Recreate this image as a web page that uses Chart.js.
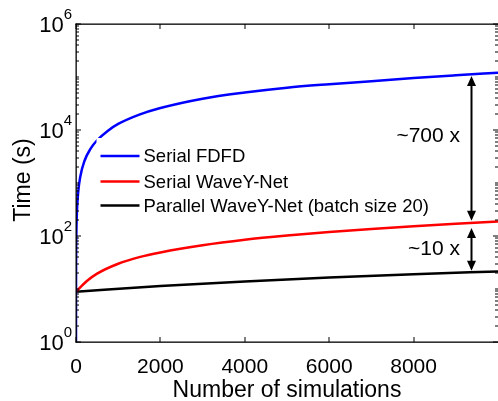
<!DOCTYPE html>
<html><head><meta charset="utf-8">
<script src="https://cdn.jsdelivr.net/npm/chart.js@4/dist/chart.umd.min.js"></script>
<style>html,body{margin:0;padding:0;background:#fff;overflow:hidden}#wrap{width:498px;height:401px;position:relative}</style>
</head><body><div id="wrap"><canvas id="c" width="498" height="401"></canvas></div>
<script>
// ---- data ----
const fdfdSims = [0, 1, 2, 5, 10, 20, 50, 100, 200, 350, 500, 750, 1000, 1500, 2000, 3000, 4000, 5000, 6000, 7000, 8000, 9000, 10000];
const fdfdTime = [1, 13, 26, 65, 130, 260, 650, 1300, 2600, 4500, 6400, 9600, 13000, 19500, 26000, 39000, 51000, 63000, 73000, 83000, 96000, 108000, 120000];
const waveySims = [0, 250, 500, 1000, 1500, 2000, 3000, 4000, 5000, 6000, 7000, 8000, 9000, 10000];
const waveyTime = [8.9, 14, 19.5, 30, 40, 49, 67, 85, 102, 119, 136, 153, 170, 187];
const parallelSims = [0, 2000, 4000, 6000, 8000, 10000];
const parallelTime = [8.9, 11.4, 13.9, 16.5, 19, 21.5];
const seriesLabels = ['Serial FDFD', 'Serial WaveY-Net', 'Parallel WaveY-Net (batch size 20)'];
const seriesColors = ['#0000ff', '#ff0000', '#000000'];
const xTicks = [0, 2000, 4000, 6000, 8000];
const yMajorExponents = [0, 2, 4, 6];
const xTitle = 'Number of simulations';
const yTitle = 'Time (s)';
const ratioLabels = ['~700 x', '~10 x'];
const ratioLabelY = [7700, 57];
const ratioLabelX = 9100;
const ratioArrowX = 9370;
const ratioArrowFrom = [105000, 142];
const ratioArrowTo = [194, 22];

const FONT = '"Liberation Sans", Arimo, Arial, sans-serif';
const pts = (xs, ys) => xs.map((x, i) => ({x: x, y: ys[i]}));

const decor = {
  id: 'decor',
  afterDatasetsDraw(chart) {
    const ctx = chart.ctx;
    ctx.save();
    ctx.fillStyle = '#fff';
    ctx.fillRect(96.5, 138, 340, 80);
    const rows = [156, 181.5, 205.5];
    ctx.font = '18.5px ' + FONT;
    ctx.textBaseline = 'middle';
    ctx.textAlign = 'left';
    chart.data.datasets.forEach((ds, i) => {
      ctx.strokeStyle = ds.borderColor;
      ctx.lineWidth = 2.5;
      ctx.beginPath();
      ctx.moveTo(100.5, rows[i]);
      ctx.lineTo(139.5, rows[i]);
      ctx.stroke();
      ctx.fillStyle = '#000';
      ctx.fillText(ds.label, 143.5, rows[i] + 1);
    });
    ctx.restore();
  },
  afterDraw(chart) {
    const ctx = chart.ctx, ca = chart.chartArea;
    const xs = chart.scales.x, ys = chart.scales.y;
    ctx.save();
    ctx.fillStyle = '#000';
    ctx.fillRect(ca.left - 0.5, ca.top - 0.5, 1.3, ca.bottom - ca.top + 1);
    ctx.fillRect(ca.left - 0.5, ca.bottom - 0.5, ca.right - ca.left + 1, 1.3);
    ctx.fillRect(ca.left - 0.5, ca.top - 0.5, ca.right - ca.left + 1, 1.3);
    xTicks.forEach(v => {
      const px = Math.round(xs.getPixelForValue(v)) - 0.5;
      ctx.fillRect(px, ca.bottom - 5, 1, 5);
      ctx.fillRect(px, ca.top, 1, 5);
    });
    for (let k = 0; k <= 6; k++) {
      for (let m = 1; m <= 9; m++) {
        const v = m * Math.pow(10, k);
        if (v > 1e6) break;
        const major = (m === 1 && k % 2 === 0);
        const len = major ? 5 : 3;
        const py = Math.round(ys.getPixelForValue(v)) - 0.5;
        ctx.fillRect(ca.left, py, len, 1);
        ctx.fillRect(ca.right - len, py, len, 1);
      }
    }
    ctx.textAlign = 'center';
    ctx.textBaseline = 'alphabetic';
    ctx.font = '21px ' + FONT;
    xTicks.forEach(v => ctx.fillText(String(v), xs.getPixelForValue(v), 373));
    yMajorExponents.forEach(e => {
      const py = ys.getPixelForValue(Math.pow(10, e));
      ctx.font = '22px ' + FONT;
      const wb = ctx.measureText('10').width;
      ctx.font = '15px ' + FONT;
      const we = ctx.measureText(String(e)).width;
      const right = ca.left - 4;
      ctx.textAlign = 'left';
      ctx.font = '22px ' + FONT;
      ctx.fillText('10', right - we - wb, py + 8);
      ctx.font = '15px ' + FONT;
      ctx.fillText(String(e), right - we, py - 5);
    });
    ctx.textAlign = 'center';
    ctx.font = '23px ' + FONT;
    ctx.fillText(xTitle, (ca.left + ca.right) / 2, 397);
    ctx.save();
    ctx.translate(30, 180);
    ctx.rotate(-Math.PI / 2);
    ctx.fillText(yTitle, 0, 0);
    ctx.restore();
    const ax = Math.round(xs.getPixelForValue(ratioArrowX)) + 0.5;
    ctx.strokeStyle = '#000';
    ctx.lineWidth = 2;
    ratioArrowFrom.forEach((f, i) => {
      const y1 = ys.getPixelForValue(f), y2 = ys.getPixelForValue(ratioArrowTo[i]);
      ctx.beginPath();
      ctx.moveTo(ax, y1 + 6);
      ctx.lineTo(ax, y2 - 6);
      ctx.stroke();
      ctx.beginPath();
      ctx.moveTo(ax, y1); ctx.lineTo(ax - 4.5, y1 + 10); ctx.lineTo(ax + 4.5, y1 + 10); ctx.closePath();
      ctx.fill();
      ctx.beginPath();
      ctx.moveTo(ax, y2); ctx.lineTo(ax - 4.5, y2 - 10); ctx.lineTo(ax + 4.5, y2 - 10); ctx.closePath();
      ctx.fill();
    });
    ctx.font = '21px ' + FONT;
    ctx.textAlign = 'right';
    ctx.textBaseline = 'middle';
    ratioLabels.forEach((t, i) => {
      ctx.fillText(t, xs.getPixelForValue(ratioLabelX), ys.getPixelForValue(ratioLabelY[i]));
    });
    ctx.restore();
  }
};

new Chart(document.getElementById('c'), {
  type: 'line',
  data: {
    datasets: [
      {label: seriesLabels[0], data: pts(fdfdSims, fdfdTime), borderColor: seriesColors[0]},
      {label: seriesLabels[1], data: pts(waveySims, waveyTime), borderColor: seriesColors[1]},
      {label: seriesLabels[2], data: pts(parallelSims, parallelTime), borderColor: seriesColors[2]}
    ]
  },
  options: {
    responsive: false,
    animation: false,
    devicePixelRatio: 1,
    layout: {padding: {top: 24, left: 0, right: 0, bottom: 0}},
    elements: {
      line: {borderWidth: 2.5, cubicInterpolationMode: 'monotone', fill: false},
      point: {radius: 0, hoverRadius: 0}
    },
    plugins: {legend: {display: false}, tooltip: {enabled: false}},
    events: [],
    scales: {
      x: {
        type: 'linear', min: 0, max: 10000,
        grid: {display: false}, border: {display: false},
        ticks: {display: false},
        afterFit: s => { s.height = 59; }
      },
      y: {
        type: 'logarithmic', min: 1, max: 1e6,
        grid: {display: false}, border: {display: false},
        ticks: {display: false},
        afterFit: s => { s.width = 76; }
      }
    }
  },
  plugins: [decor]
});
</script></body></html>
